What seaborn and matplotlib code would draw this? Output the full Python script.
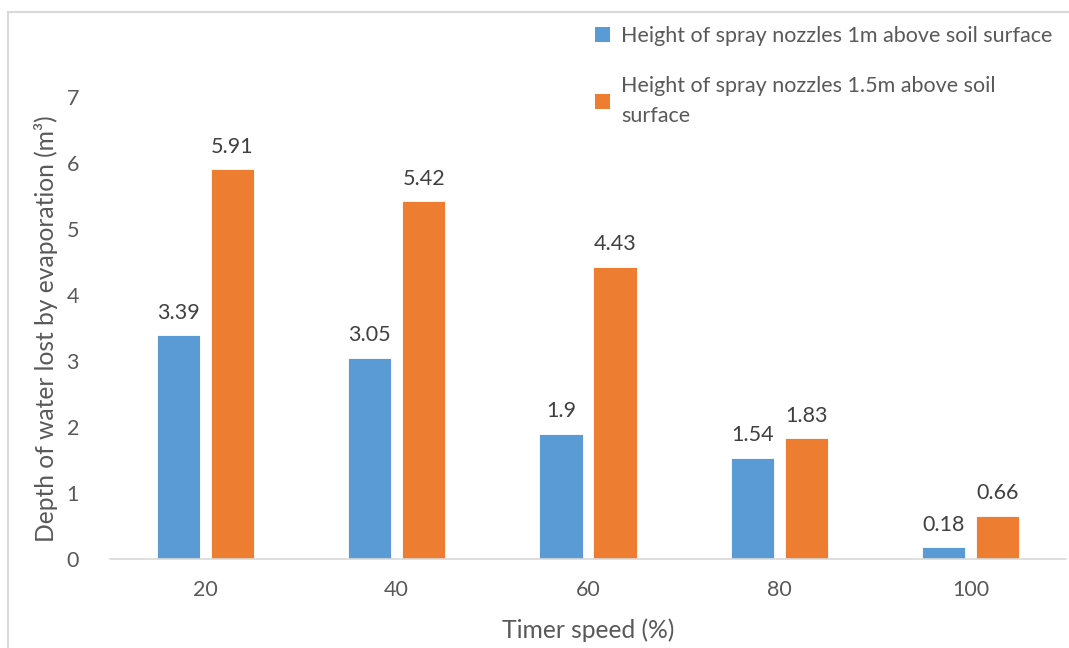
import matplotlib
matplotlib.use("Agg")
import matplotlib.pyplot as plt
from matplotlib.lines import Line2D
from matplotlib.patches import Patch
import seaborn as sns
import pandas as pd

# Data
timer_speed = ["20", "40", "60", "80", "100"]
nozzle_1m = [3.39, 3.05, 1.9, 1.54, 0.18]
nozzle_1_5m = [5.91, 5.42, 4.43, 1.83, 0.66]
series_names = [
    "Height of spray nozzles 1m above soil surface",
    "Height of spray nozzles 1.5m above soil\nsurface",
]
colors = ["#5B9BD5", "#ED7D31"]

df = pd.DataFrame({
    "speed": timer_speed * 2,
    "value": nozzle_1m + nozzle_1_5m,
    "series": [series_names[0]] * len(timer_speed) + [series_names[1]] * len(timer_speed),
})

sns.set_theme(style="white")
plt.rcParams["font.family"] = ["Lato", "DejaVu Sans"]
text_color = "#595959"

fig = plt.figure(figsize=(10.69, 6.48), dpi=100)
ax = fig.add_axes([0.1025, 0.137, 0.895, 0.713])

sns.barplot(data=df, x="speed", y="value", hue="series", order=timer_speed,
            hue_order=series_names, palette=colors, saturation=1,
            width=0.565, gap=0.2, edgecolor="white", linewidth=0.6,
            ax=ax, legend=False)

ax.set_ylim(0, 7)
ax.set_yticks(range(0, 8))
ax.set_xlim(-0.5, len(timer_speed) - 0.5)

for c in ax.containers:
    labels = [f"{v:g}" for v in c.datavalues]
    ax.bar_label(c, labels=labels, padding=9, fontsize=15.5, color="#404040")

for s in ["top", "right", "left"]:
    ax.spines[s].set_visible(False)
ax.spines["bottom"].set_color("#D9D9D9")
ax.spines["bottom"].set_linewidth(1.2)
ax.tick_params(axis="both", length=0, labelsize=15.5, labelcolor=text_color)
ax.tick_params(axis="x", pad=15)
ax.tick_params(axis="y", pad=22)

ax.set_xlabel("Timer speed (%)", fontsize=17.7, color=text_color, labelpad=13)
ax.set_ylabel("Depth of water lost by evaporation (m\u00b3)", fontsize=17.7,
              color=text_color, labelpad=6)

handles = [Patch(facecolor=col, edgecolor="none") for col in colors]
leg = fig.legend(handles, series_names, loc="upper left",
                 bbox_to_anchor=(0.5385, 0.99), frameon=False, fontsize=15.5,
                 labelcolor=text_color, handlelength=0.7, handleheight=0.7,
                 handletextpad=0.5, labelspacing=1.4)
for t in leg.get_texts():
    t.set_linespacing(1.6)

# Light frame around the chart area
fig.add_artist(Line2D([0.0075, 0.0075], [0.0, 0.9815], color="#D9D9D9", lw=1.5,
                      transform=fig.transFigure))
fig.add_artist(Line2D([0.0075, 1.0], [0.9815, 0.9815], color="#D9D9D9", lw=1.5,
                      transform=fig.transFigure))

fig.savefig("out.png", dpi=100)
